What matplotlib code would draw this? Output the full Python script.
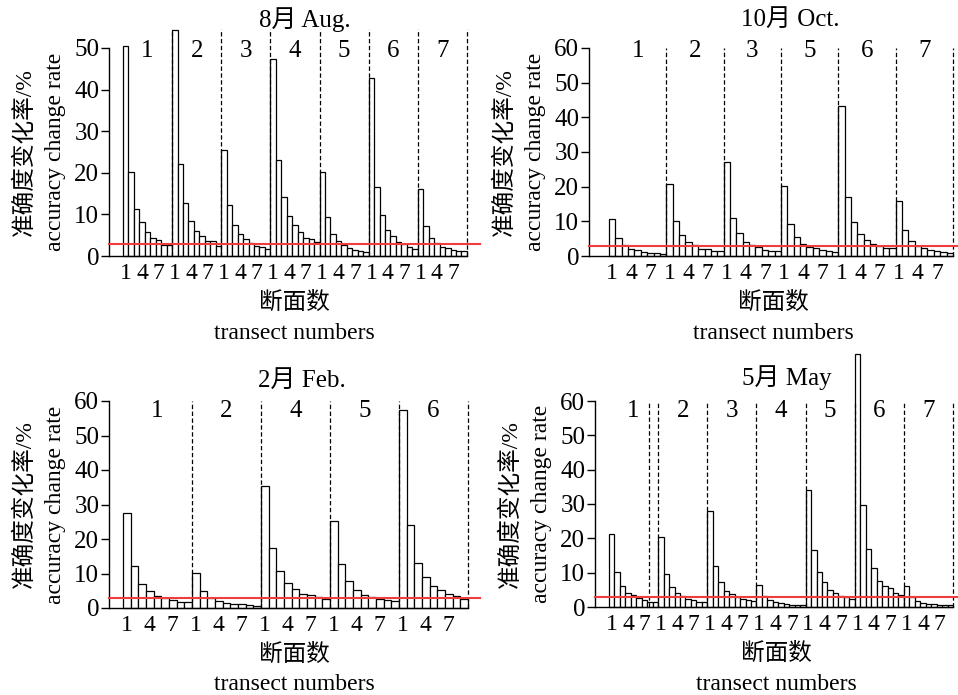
import numpy as np
import matplotlib
matplotlib.use("Agg")
from matplotlib import pyplot as plt

plt.rcParams['font.family'] = ['Liberation Serif', 'Noto Sans CJK SC']
plt.rcParams['axes.unicode_minus'] = False

## accuracy change rate (%) per transect number, 9 transects per section
aug_sections = ['1', '2', '3', '4', '5', '6', '7']
aug_rate = [
    [50.5, 20.3, 11.3, 8.2, 5.7, 4.4, 3.8, 2.6, 2.6],
    [54.3, 22.0, 12.7, 8.3, 6.0, 4.7, 3.7, 3.5, 2.4],
    [25.6, 12.3, 7.5, 5.2, 4.2, 3.2, 2.5, 2.1, 1.8],
    [47.3, 23.1, 14.1, 9.5, 7.4, 5.7, 4.4, 4.1, 3.3],
    [20.3, 9.3, 5.3, 3.7, 2.6, 1.9, 1.5, 1.3, 1.0],
    [42.7, 16.7, 9.8, 6.2, 4.7, 3.4, 2.8, 2.1, 1.8],
    [16.0, 7.2, 4.4, 3.1, 2.1, 1.9, 1.4, 1.1, 1.1],
]

oct_sections = ['1', '2', '3', '5', '6', '7']
oct_rate = [
    [10.8, 5.2, 3.3, 2.1, 1.8, 1.2, 0.9, 0.9, 0.5],
    [20.9, 10.0, 6.0, 4.0, 3.1, 2.1, 2.1, 1.5, 1.5],
    [27.0, 11.1, 6.5, 4.0, 3.3, 2.6, 1.8, 1.5, 1.5],
    [20.3, 9.1, 5.5, 3.4, 2.6, 2.2, 1.8, 1.4, 1.1],
    [43.4, 16.9, 9.7, 6.3, 4.5, 3.4, 2.9, 2.4, 2.2],
    [15.8, 7.4, 4.3, 2.9, 2.4, 1.8, 1.5, 1.2, 0.9],
]

feb_sections = ['1', '2', '4', '5', '6']
feb_rate = [
    [27.6, 12.2, 7.1, 4.9, 3.4, 2.9, 2.2, 1.7, 1.7],
    [10.2, 4.9, 3.0, 2.0, 1.4, 1.2, 1.2, 0.9, 0.6],
    [35.5, 17.5, 10.7, 7.2, 5.6, 4.2, 3.7, 3.2, 2.6],
    [25.3, 12.8, 7.7, 5.3, 3.9, 3.1, 2.6, 2.4, 2.1],
    [57.3, 24.0, 13.0, 9.0, 6.4, 5.1, 4.1, 3.5, 2.6],
]

may_sections = ['1', '2', '3', '4', '5', '6', '7']
may_rate = [
    [21.3, 10.1, 6.2, 4.1, 3.4, 2.5, 2.0, 1.6, 1.6],
    [20.5, 9.6, 5.7, 4.0, 3.3, 2.4, 2.0, 1.5, 1.5],
    [28.1, 11.8, 7.3, 4.8, 3.7, 2.8, 2.4, 2.1, 1.7],
    [6.4, 3.1, 1.9, 1.4, 1.1, 0.8, 0.5, 0.5, 0.5],
    [34.0, 16.6, 10.2, 7.3, 5.0, 4.1, 3.3, 2.9, 2.3],
    [73.6, 29.6, 16.9, 11.5, 7.5, 6.0, 5.5, 4.0, 3.4],
    [6.0, 2.9, 1.7, 1.1, 0.9, 0.9, 0.6, 0.6, 0.6],
]

threshold = 3.0  ## red reference line
tick_transects = ['1', '4', '7']

W, H = 958, 695
FS = 18   ## titles, section numbers
TFS = 17  ## tick labels
LFS = 17  ## axis labels

fig = plt.figure(figsize=(W / 100, H / 100), dpi=100)


def px_axes(left, top, right, bottom):
    return fig.add_axes([left / W, 1 - bottom / H, (right - left) / W, (bottom - top) / H])


def panel(box, title, title_xy, sections, rate, ymax, gap, extra, sep_top,
          lab_off, extra_seps=()):
    ax = px_axes(*box)
    n_per = len(rate[0])
    vals = np.concatenate([np.array(r, dtype=float) for r in rate])
    n = len(vals)
    x = np.arange(n) + 0.5

    ax.bar(x, vals, width=1.0, color='white', edgecolor='black',
           linewidth=0.9, clip_on=False, zorder=2)

    ## dashed section separators
    seps = list(np.arange(1, len(sections) + 1) * n_per) + list(extra_seps)
    for s in seps:
        ax.plot([s, s], [0, sep_top], color='black', lw=0.9,
                ls=(0, (3.5, 2.0)), clip_on=False, zorder=3)

    ax.axhline(threshold, color='#f03c3c', lw=1.5, zorder=4, clip_on=False)

    ax.set_xlim(-gap, n + extra)
    ax.set_ylim(0, ymax)
    ax.set_yticks(np.arange(0, ymax + 1, 10))

    ## x ticks: transect 1, 4, 7 of each section
    pos = []
    labs = []
    for g in range(len(sections)):
        for t in tick_transects:
            pos.append(g * n_per + int(t) - 0.5)
            labs.append(t)
    ax.set_xticks(pos)
    ax.set_xticklabels(labs)
    ax.tick_params(axis='x', length=0, pad=5, labelsize=TFS)
    ax.tick_params(axis='y', length=6, width=1, direction='out', pad=1, labelsize=TFS + 1)

    for sp in ['top', 'right']:
        ax.spines[sp].set_visible(False)
    ax.spines['bottom'].set_bounds(-gap, n)
    ax.spines['left'].set_linewidth(1)
    ax.spines['bottom'].set_linewidth(1)

    ## section numbers
    h_px = box[3] - box[1]
    for g, name in enumerate(sections):
        ax.text(g * n_per + n_per / 2, 1 - lab_off / h_px, name,
                transform=ax.get_xaxis_transform(), ha='center', va='center',
                fontsize=FS)

    fig.text(title_xy[0] / W, 1 - title_xy[1] / H, title,
             ha='center', va='center', fontsize=FS)

    ## axis labels
    ax.annotate('准确度变化率/%', xy=(0, 0.5), xycoords='axes fraction',
                xytext=(-85 * 0.72, 0), textcoords='offset points',
                rotation=90, ha='center', va='center', fontsize=LFS,
                fontweight='light')
    ax.annotate('accuracy change rate', xy=(0, 0.5), xycoords='axes fraction',
                xytext=(-54 * 0.72, 0), textcoords='offset points',
                rotation=90, ha='center', va='center', fontsize=LFS)
    ax.annotate('断面数', xy=(0.5, 0), xycoords='axes fraction',
                xytext=(0, -47 * 0.72), textcoords='offset points',
                ha='center', va='center', fontsize=LFS, fontweight='light')
    ax.annotate('transect numbers', xy=(0.5, 0), xycoords='axes fraction',
                xytext=(0, -77 * 0.72), textcoords='offset points',
                ha='center', va='center', fontsize=LFS)
    return ax


panel((109, 48, 480, 256), '8月 Aug.', (305, 20), aug_sections, aug_rate,
      50, 2.56, 2.4, 54.5, 3)
panel((589, 48, 958, 256), '10月 Oct.', (790, 20), oct_sections, oct_rate,
      60, 3.14, 0.8, 60, 3)
panel((109, 401, 480, 608), '2月 Feb.', (302, 381), feb_sections, feb_rate,
      60, 1.83, 1.56, 60, 10)
panel((595, 401, 958, 607), '5月 May', (787, 378), may_sections, may_rate,
      60, 2.56, 0.9, 60, 10, extra_seps=(7.3,))

fig.savefig('out.png', dpi=100)
